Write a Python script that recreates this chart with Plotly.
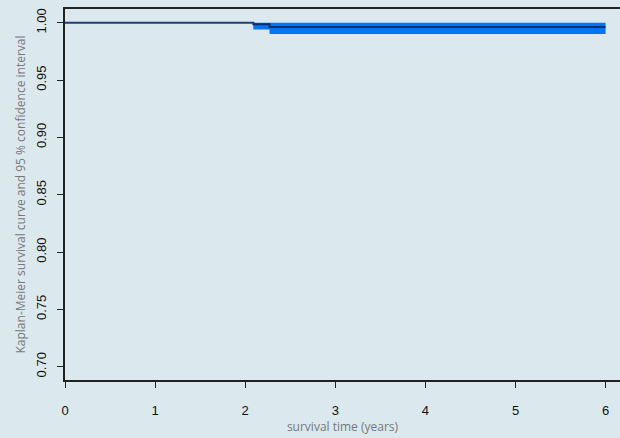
import plotly.graph_objects as go

# Kaplan-Meier estimates
times = [0.0, 2.09, 2.27, 6.0]
survival = [1.0, 0.9986, 0.9962, 0.9962]
ci_lower = [1.0, 0.9942, 0.9903, 0.9903]
ci_upper = [1.0, 1.0, 1.0, 1.0]

x_ticks = [0, 1, 2, 3, 4, 5, 6]
y_ticks = [0.70, 0.75, 0.80, 0.85, 0.90, 0.95, 1.00]
y_tick_labels = ["0.70", "0.75", "0.80", "0.85", "0.90", "0.95", "1.00"]

BG = "#dbe9ef"
BAND = "#0275f2"
LINE = "rgba(0,36,96,0.86)"

fig = go.Figure()
fig.add_trace(go.Scatter(x=times, y=ci_upper, mode="lines", line=dict(width=0, shape="hv", color=BAND),
                         showlegend=False, hoverinfo="skip"))
fig.add_trace(go.Scatter(x=times, y=ci_lower, mode="lines", line=dict(width=0, shape="hv", color=BAND),
                         fill="tonexty", fillcolor=BAND, showlegend=False, hoverinfo="skip"))
fig.add_trace(go.Scatter(x=times, y=survival, mode="lines", line=dict(width=2, shape="hv", color=LINE),
                         showlegend=False))

tick_font = dict(family="Liberation Sans, Arial, sans-serif", size=13, color="#111")
title_font = dict(family="Open Sans, Noto Sans, sans-serif", size=12, color="#777")

fig.update_layout(
    width=620, height=438,
    margin=dict(l=65, r=0, t=9, b=58),
    paper_bgcolor=BG, plot_bgcolor=BG,
    xaxis=dict(range=[0, 6.16], tickvals=x_ticks, ticktext=[str(v) for v in x_ticks], automargin=False,
               showgrid=False, zeroline=False, showline=True, linecolor="#222", linewidth=1.5,
               mirror=True, ticks="outside", ticklen=6, tickcolor="#222", tickfont=tick_font,
               ticklabelstandoff=12,
               title=dict(text="survival time (years)", font=title_font, standoff=4)),
    yaxis=dict(range=[0.6884, 1.012], tickvals=y_ticks, ticktext=y_tick_labels, tickangle=-90,
               automargin=False,
               showgrid=False, zeroline=False, showline=True, linecolor="#222", linewidth=1.5,
               ticks="outside", ticklen=6, tickcolor="#222", tickfont=tick_font,
               ticklabelstandoff=6,
               title=dict(text="Kaplan-Meier survival curve and 95 % confidence interval",
                          font=title_font, standoff=6)),
)

fig.write_html("out.html", config={"displayModeBar": False},
               post_script="document.body.style.margin='0px';document.body.style.overflow='hidden';")
